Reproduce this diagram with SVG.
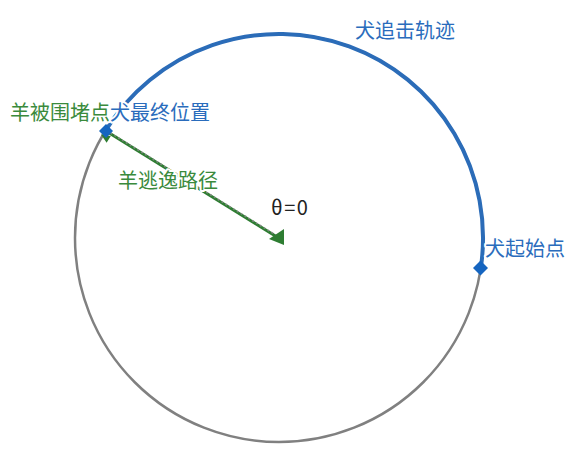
<svg xmlns="http://www.w3.org/2000/svg" width="571" height="453" viewBox="0 0 571 453">
<style>
.lbl{font-family:"Noto Sans CJK SC","Noto Sans",sans-serif;font-size:20px;paint-order:stroke;stroke:#fff;stroke-width:4px;stroke-linejoin:round}
.blue{fill:#2a6cbc}
.green{fill:#3a8a3c}
.dark{fill:#222}
.pt{fill:#1565c0}
</style>
<rect width="571" height="453" fill="#fff"/>
<g id="boundary">
<circle cx="279" cy="238" r="204" fill="none" stroke="#808080" stroke-width="2.5"/>
</g>
<g id="connectors">
<path id="dog-path" d="M480.8,268 A204,204 0 0 0 105.5,130.7" fill="none" stroke="#2b6cb8" stroke-width="4"/>
<line id="sheep-path" x1="106" y1="131" x2="277" y2="237" stroke="#2e7d32" stroke-width="3"/>
<line x1="110.5" y1="133" x2="276" y2="235.2" stroke="#8a8a8a" stroke-width="1.6" stroke-dasharray="2 2.5" opacity="0.85"/>
<polygon points="269,239 284,229 284,245" fill="#2e7d32"/>
<polygon points="101,134.5 110.8,135.9 106.6,142.7" fill="#2e7d32"/>
</g>
<g id="dog-start">
<polygon class="pt" points="480.5,260.5 488,268 480.5,275.5 473,268"/>
<text class="lbl blue" x="485" y="256">犬起始点</text>
</g>
<g id="meet-point">
<polygon class="pt" points="106,124 113,131 106,138 99,131"/>
<text class="lbl green" x="10" y="120">羊被围堵点</text>
<text class="lbl blue" x="110" y="120">犬最终位置</text>
</g>
<g id="labels">
<text class="lbl blue" x="355" y="38">犬追击轨迹</text>
<text class="lbl green" x="118" y="188">羊逃逸路径</text>
<text class="lbl dark" x="271" y="215" letter-spacing="1.5">θ=0</text>
</g>
</svg>
